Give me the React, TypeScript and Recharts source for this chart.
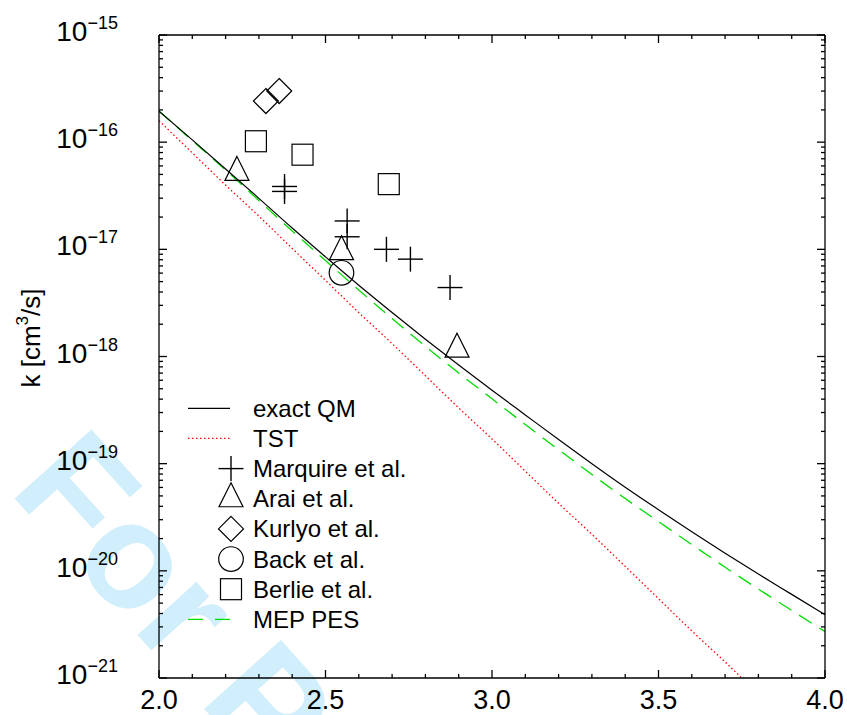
import React from 'react';
import { ComposedChart, Line, Scatter, XAxis, YAxis, Legend } from 'recharts';

const W = 847;
const H = 715;
const FONT = '"Liberation Sans", Arial, Helvetica, sans-serif';

// curves (x, k in cm^3/s)
const lineX = [2.0, 2.1, 2.2, 2.3, 2.4, 2.5, 2.6, 2.7, 2.8, 2.9, 3.0, 3.1, 3.2, 3.3, 3.4, 3.5, 3.6, 3.7, 3.8, 3.9, 4.0];
const exactQM = [1.95e-16, 1.05e-16, 5.62e-17, 2.99e-17, 1.58e-17, 8.51e-18, 4.62e-18, 2.57e-18, 1.45e-18, 8.32e-19, 4.84e-19, 2.85e-19, 1.68e-19, 1.0e-19, 6.03e-20, 3.72e-20, 2.32e-20, 1.46e-20, 9.33e-21, 6.03e-21, 3.89e-21];
const mepPES = [1.95e-16, 1.035e-16, 5.5e-17, 2.85e-17, 1.48e-17, 7.85e-18, 4.17e-18, 2.26e-18, 1.245e-18, 7.0e-19, 4.03e-19, 2.32e-19, 1.35e-19, 7.94e-20, 4.73e-20, 2.88e-20, 1.76e-20, 1.08e-20, 6.76e-21, 4.27e-21, 2.71e-21];
const tstX = [2.0, 2.1, 2.2, 2.3, 2.4, 2.5, 2.6, 2.7, 2.8, 2.9, 3.0, 3.1, 3.2, 3.3, 3.4, 3.5, 3.6, 3.7, 3.75];
const tst = [1.585e-16, 7.94e-17, 3.98e-17, 2.04e-17, 1.02e-17, 5.13e-18, 2.57e-18, 1.32e-18, 6.61e-19, 3.31e-19, 1.7e-19, 8.51e-20, 4.27e-20, 2.19e-20, 1.1e-20, 5.5e-21, 2.75e-21, 1.41e-21, 1.0e-21];

// experimental points
const marquireX = [2.377, 2.377, 2.565, 2.565, 2.683, 2.755, 2.874];
const marquireK = [3.86e-17, 3.47e-17, 1.84e-17, 1.31e-17, 1.0e-17, 8.1e-18, 4.4e-18];
const araiX = [2.234, 2.548, 2.895];
const araiK = [5.22e-17, 9.5e-18, 1.17e-18];
const kurlyoX = [2.321, 2.361];
const kurlyoK = [2.42e-16, 3.0e-16];
const backX = [2.548];
const backK = [6.04e-18];
const berlieX = [2.291, 2.431, 2.69];
const berlieK = [1.02e-16, 7.64e-17, 4.06e-17];

// ticks
const xTicks = [2.0, 2.1, 2.2, 2.3, 2.4, 2.5, 2.6, 2.7, 2.8, 2.9, 3.0, 3.1, 3.2, 3.3, 3.4, 3.5, 3.6, 3.7, 3.8, 3.9, 4.0];
const yDecades = [-21, -20, -19, -18, -17, -16, -15];
const yMultipliers = [1, 2, 3, 4, 5, 6, 7, 8, 9];
const yTicks: number[] = [];
yDecades.forEach((e) => {
  yMultipliers.forEach((m) => {
    if (e === -15 && m > 1) return;
    yTicks.push(Number((m * Math.pow(10, e)).toPrecision(3)));
  });
});

const legendLabels = ['exact QM', 'TST', 'Marquire et al.', 'Arai et al.', 'Kurlyo et al.', 'Back et al.', 'Berlie et al.', 'MEP PES'];

const toPts = (xs: number[], ks: number[]) => xs.map((x, i) => ({ x, k: ks[i] }));
const exactData = toPts(lineX, exactQM);
const mepData = toPts(lineX, mepPES);
const tstData = toPts(tstX, tst);
const marquireData = toPts(marquireX, marquireK);
const araiData = toPts(araiX, araiK);
const kurlyoData = toPts(kurlyoX, kurlyoK);
const backData = toPts(backX, backK);
const berlieData = toPts(berlieX, berlieK);

const SW = 1.2;

const PlusMark = ({ cx, cy }: any) => (
  <g>
    <line x1={cx - 12.5} x2={cx + 12.5} y1={cy} y2={cy} stroke="#000" strokeWidth={1.4} />
    <line x1={cx} x2={cx} y1={cy - 12.5} y2={cy + 12.5} stroke="#000" strokeWidth={1.4} />
  </g>
);
const TriMark = ({ cx, cy }: any) => (
  <path d={`M${cx},${cy - 16}L${cx + 12},${cy + 8}L${cx - 12},${cy + 8}Z`} fill="none" stroke="#000" strokeWidth={SW} />
);
const DiaMark = ({ cx, cy }: any) => (
  <path d={`M${cx},${cy - 12.5}L${cx + 12.5},${cy}L${cx},${cy + 12.5}L${cx - 12.5},${cy}Z`} fill="none" stroke="#000" strokeWidth={SW} />
);
const CircMark = ({ cx, cy }: any) => (
  <circle cx={cx} cy={cy} r={12.3} fill="none" stroke="#000" strokeWidth={SW} />
);
const SqMark = ({ cx, cy }: any) => (
  <rect x={cx - 10.5} y={cy - 10.5} width={21} height={21} fill="none" stroke="#000" strokeWidth={SW} />
);

const isMajorX = (v: number) => Math.abs(v * 2 - Math.round(v * 2)) < 1e-6;
const yInfo = (v: number) => {
  const e = Math.floor(Math.log10(v) + 1e-9);
  const mant = v / Math.pow(10, e);
  return { e, major: Math.abs(mant - 1) < 1e-6 };
};

const TICK_W = 1.3;

const BottomTick = (props: any) => {
  const x = Number(props.x);
  const y = Number(props.y);
  const v = props.payload.value;
  const major = isMajorX(v);
  return (
    <g>
      <path d={`M${x},${y}V${y - (major ? 8 : 4)}`} stroke="#000" strokeWidth={TICK_W} fill="none" />
      {major && (
        <text x={x} y={y + 31} textAnchor="middle" fontSize={27} fontFamily={FONT} fill="#000" stroke="none">
          {v.toFixed(1)}
        </text>
      )}
    </g>
  );
};
const TopTick = (props: any) => {
  const x = Number(props.x);
  const y = Number(props.y);
  const major = isMajorX(props.payload.value);
  return <path d={`M${x},${y}V${y + (major ? 8 : 4)}`} stroke="#000" strokeWidth={TICK_W} fill="none" />;
};
const LeftTick = (props: any) => {
  const x = Number(props.x);
  const y = Number(props.y);
  const { e, major } = yInfo(props.payload.value);
  return (
    <g>
      <path d={`M${x},${y}H${x + (major ? 8 : 4)}`} stroke="#000" strokeWidth={TICK_W} fill="none" />
      {major && (
        <text x={x - 41} y={y + 6} textAnchor="end" fontFamily={FONT} fill="#000" stroke="none">
          <tspan fontSize={28}>10</tspan>
          <tspan fontSize={18} dy={-12}>{'\u2212' + Math.abs(e)}</tspan>
        </text>
      )}
    </g>
  );
};
const RightTick = (props: any) => {
  const x = Number(props.x);
  const y = Number(props.y);
  const { major } = yInfo(props.payload.value);
  return <path d={`M${x},${y}H${x - (major ? 8 : 4)}`} stroke="#000" strokeWidth={TICK_W} fill="none" />;
};

const YTitle = () => (
  <text transform="translate(40,338) rotate(-90)" textAnchor="middle" fontFamily={FONT} fontSize={26} fill="#000">
    <tspan>k [cm</tspan>
    <tspan fontSize={17} dy={-12}>3</tspan>
    <tspan dy={12}>/s]</tspan>
  </text>
);

const LegendBox = () => {
  const y0 = 18.3;
  const step = 30.15;
  const sym = [null, null, PlusMark, TriMark, DiaMark, CircMark, SqMark, null];
  return (
    <svg width={260} height={250} style={{ position: 'absolute', left: 0, top: 0, overflow: 'visible' }}>
      {legendLabels.map((lab, i) => {
        const cy = y0 + i * step;
        const S = sym[i] as any;
        return (
          <g key={lab}>
            {i === 0 && <line x1={18} x2={60} y1={cy} y2={cy} stroke="#000" strokeWidth={SW} />}
            {i === 1 && <line x1={18} x2={60} y1={cy} y2={cy} stroke="#ff0000" strokeWidth={1.3} strokeDasharray="1.5 2.5" />}
            {i === 7 && <line x1={18} x2={60} y1={cy} y2={cy} stroke="#00dd00" strokeWidth={1.3} strokeDasharray="15 12" />}
            {S && <S cx={61} cy={cy} />}
            <text x={83} y={cy + 8.5} fontSize={24} fontFamily={FONT} fill="#000">{lab}</text>
          </g>
        );
      })}
    </svg>
  );
};

export default function App() {
  return (
    <div style={{ position: 'absolute', left: 0, top: 0, width: W, height: H, background: '#fff', overflow: 'hidden' }}>
      <svg width={W} height={H} style={{ position: 'absolute', left: 0, top: 0 }}>
        <text
          transform="translate(8,491) rotate(48)"
          fontSize={150}
          fontWeight="bold"
          fontFamily={FONT}
          fill="#d0eefb"
        >
          For P
        </text>
      </svg>
      <div style={{ position: 'absolute', left: 0, top: 0 }}>
        <ComposedChart width={W} height={H} margin={{ top: 34, right: 21, bottom: 0, left: 0 }} style={{ fontFamily: FONT }}>
          <XAxis xAxisId="b" type="number" dataKey="x" domain={[2, 4]} ticks={xTicks} interval={0} height={37}
            tickSize={0} tickMargin={0} tickLine={false} tick={<BottomTick />} axisLine={{ stroke: '#000', strokeWidth: 1.3 }} allowDataOverflow />
          <XAxis xAxisId="t" orientation="top" type="number" dataKey="x" domain={[2, 4]} ticks={xTicks} interval={0} height={1}
            tickSize={0} tickMargin={0} tickLine={false} tick={<TopTick />} axisLine={{ stroke: '#000', strokeWidth: 1.3 }} allowDataOverflow />
          <YAxis yAxisId="l" type="number" dataKey="k" scale="log" domain={[1e-21, 1e-15]} ticks={yTicks} interval={0} width={159}
            tickSize={0} tickMargin={0} tickLine={false} tick={<LeftTick />} axisLine={{ stroke: '#000', strokeWidth: 1.3 }} allowDataOverflow
            label={{ content: () => <YTitle /> }} />
          <YAxis yAxisId="r" orientation="right" type="number" dataKey="k" scale="log" domain={[1e-21, 1e-15]} ticks={yTicks} interval={0} width={1}
            tickSize={0} tickMargin={0} tickLine={false} tick={<RightTick />} axisLine={{ stroke: '#000', strokeWidth: 1.3 }} allowDataOverflow />
          <Legend layout="horizontal" verticalAlign="middle" align="center" content={() => <LegendBox />}
            wrapperStyle={{ left: 170, top: 390, width: 260, height: 250 }} />
          <Line xAxisId="b" yAxisId="l" data={tstData} dataKey="k" type="monotone" stroke="#ff0000" strokeWidth={1.3} strokeDasharray="1.5 2.5" dot={false} isAnimationActive={false} />
          <Line xAxisId="b" yAxisId="l" data={mepData} dataKey="k" type="monotone" stroke="#00dd00" strokeWidth={1.3} strokeDasharray="15 9" dot={false} isAnimationActive={false} />
          <Line xAxisId="b" yAxisId="l" data={exactData} dataKey="k" type="monotone" stroke="#000" strokeWidth={SW} dot={false} isAnimationActive={false} />
          <Line xAxisId="t" yAxisId="r" data={exactData} dataKey="k" stroke="none" dot={false} legendType="none" isAnimationActive={false} />
          <Scatter xAxisId="b" yAxisId="l" data={marquireData} dataKey="k" shape={(p: any) => <PlusMark {...p} />} isAnimationActive={false} />
          <Scatter xAxisId="b" yAxisId="l" data={araiData} dataKey="k" shape={(p: any) => <TriMark {...p} />} isAnimationActive={false} />
          <Scatter xAxisId="b" yAxisId="l" data={kurlyoData} dataKey="k" shape={(p: any) => <DiaMark {...p} />} isAnimationActive={false} />
          <Scatter xAxisId="b" yAxisId="l" data={backData} dataKey="k" shape={(p: any) => <CircMark {...p} />} isAnimationActive={false} />
          <Scatter xAxisId="b" yAxisId="l" data={berlieData} dataKey="k" shape={(p: any) => <SqMark {...p} />} isAnimationActive={false} />
        </ComposedChart>
      </div>
    </div>
  );
}
